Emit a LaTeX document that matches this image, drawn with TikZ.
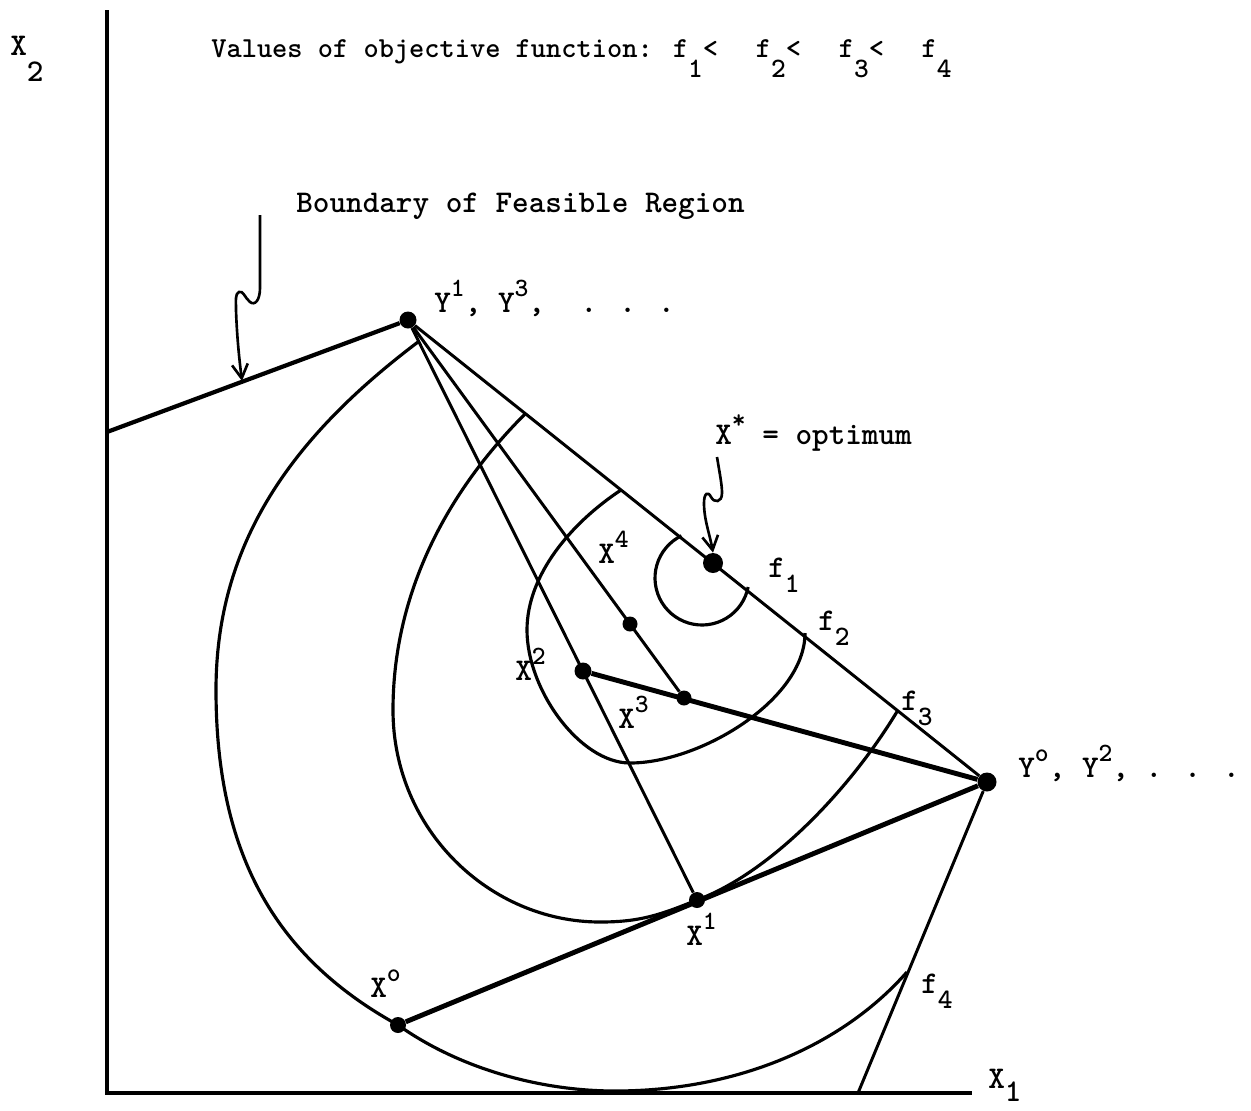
\documentclass[tikz,border=0pt]{standalone}
\usepackage{tikz}
\usetikzlibrary{arrows.meta}

\newcommand{\upx}[1]{\raisebox{0.5em}{\fontsize{15}{15}\selectfont #1}}
\newcommand{\dnx}[1]{\raisebox{-0.5em}{\fontsize{16}{16}\selectfont #1}}
\newcommand{\dnxx}[1]{\raisebox{-0.72em}{\fontsize{16}{16}\selectfont #1}}

\begin{document}
\begin{tikzpicture}[x=0.02cm, y=-0.02cm,
		thinline/.style={line width=1.7pt},
		heavy/.style={line width=2.8pt},
		contour/.style={line width=1.8pt},
		dot/.style={circle, fill=black, inner sep=0pt, minimum size=3.4mm},
		lbl/.style={anchor=base west, inner sep=0pt, font=\ttfamily\bfseries\fontsize{18}{20}\selectfont},
		squig/.style={line width=1.5pt, -{Straight Barb[length=8pt, width=9pt]}}]
			\useasboundingbox (0,0) rectangle (1251,1110);
			
			% axes
			\coordinate (top) at (107,10);
			\coordinate (O) at (107,1093);
			\coordinate (xend) at (972,1093);
			\draw[line width=2.1pt] (top) -- (O) -- (xend);
			
			% iterates
			\node[dot] (Y1) at (408,320) {};
			\node[dot, minimum size=3.8mm] (Y0) at (987,782) {};
			\node[dot, minimum size=4mm] (Xs) at (713,563) {};
			\node[dot, minimum size=3.2mm] (X0) at (398,1025) {};
			\node[dot, minimum size=3.2mm] (X1) at (697,900) {};
			\node[dot] (X2) at (583,671) {};
			\node[dot, minimum size=3mm] (X3) at (684,698) {};
			\node[dot, minimum size=3mm] (X4) at (630,624) {};
			
			% boundary of the feasible region
			\coordinate (bl) at (107,432);
			\coordinate (br) at (858,1093);
			\draw[line width=2.4pt] (bl) -- (Y1);
			\draw[thinline] (Y1) -- (Y0) -- (br);
			
			% search directions
			\draw[thinline] (Y1) -- (X1);
			\draw[thinline] (Y1) -- (X3);
			\draw[heavy] (X2) -- (Y0);
			\draw[heavy] (X0) -- (Y0);
			
			% contours f1 .. f4
			\draw[contour] plot[domain=116:349, samples=40] ({702+47*cos(\x)}, {578-47*sin(\x)});
			\draw[contour] (621,490) .. controls (571,523) and (527,575) .. (527,630)
				.. controls (527,690) and (580,763) .. (630,763)
				.. controls (700,763) and (805,700) .. (805,633);
			\draw[contour] (525,414) .. controls (441,498) and (393,600) .. (393,710)
				.. controls (393,830) and (490,922) .. (600,922)
				.. controls (640,922) and (660,915) .. (X1.center)
				.. controls (770,873) and (850,790) .. (898,710);
			\draw[contour] (418,342) .. controls (295,435) and (216,540) .. (216,690)
				.. controls (216,860) and (280,960) .. (X0.center)
				.. controls (463,1071) and (545,1091) .. (615,1091)
				.. controls (735,1091) and (841,1047) .. (907,972);
			
			% pointers
			\coordinate (bstart) at (260,215);
			\coordinate (bhit) at (242,381);
			\draw[squig] (bstart) -- (260,288) .. controls (260,300) and (255,306) .. (250,302)
				.. controls (245,298) and (243,290) .. (239,292) .. controls (235,294) and (236,300) .. (236,310)
				.. controls (237,340) and (240,365) .. (bhit);
			\coordinate (sstart) at (717,457);
			\draw[squig] (sstart) .. controls (720,475) and (722,485) .. (722,493)
				.. controls (722,503) and (714,503) .. (711,497) .. controls (708,491) and (704,493) .. (704,503)
				.. controls (704,520) and (710,535) .. (Xs.north);
			
			% texts
			\node[lbl, font=\ttfamily\bfseries\fontsize{16.5}{18}\selectfont] (title) at (211,57)
				{Values of objective function: f\dnxx{1}<\hspace{1.3em}f\dnxx{2}<\hspace{1.3em}f\dnxx{3}<\hspace{1.3em}f\dnxx{4}};
			\node[lbl] (bndlbl) at (296,212) {Boundary of Feasible Region};
			\node[lbl] (lx2) at (10,55) {X\raisebox{-0.85em}{2}};
			\node[lbl] (lx1) at (988,1088) {X\raisebox{-0.42em}{1}};
			\node[lbl] (lY1) at (434,312) {Y\upx{1}, Y\upx{3},\hspace{0.6em} . . .};
			\node[lbl] (lY0) at (1018,777) {Y\upx{o}, Y\upx{2}, . . .};
			\node[lbl] (lXs) at (715,444) {X\upx{*} = optimum};
			\node[lbl] (lf1) at (768,577) {f\dnx{1}};
			\node[lbl] (lf2) at (818,630) {f\dnx{2}};
			\node[lbl] (lf3) at (901,710) {f\dnx{3}};
			\node[lbl] (lf4) at (921,993) {f\dnx{4}};
			\node[lbl] (lX4) at (598,563) {X\upx{4}};
			\node[lbl] (lX2) at (515,680) {X\upx{2}};
			\node[lbl] (lX3) at (618,728) {X\upx{3}};
			\node[lbl] (lX1) at (686,945) {X\upx{1}};
			\node[lbl] (lX0) at (370,997) {X\upx{o}};
		\end{tikzpicture}
\end{document}
